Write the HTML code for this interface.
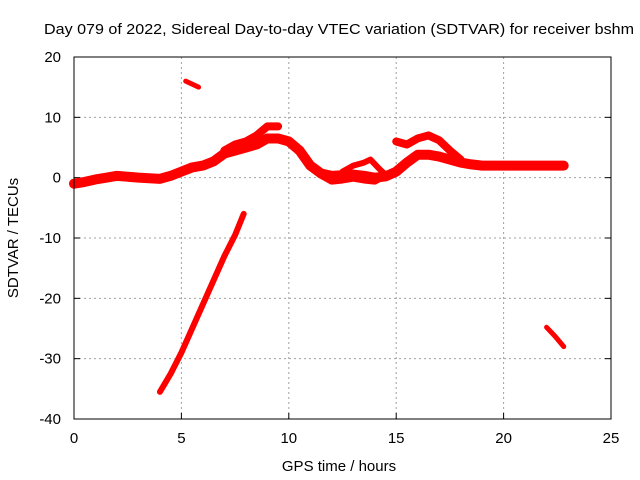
<!DOCTYPE html>
<html><head><meta charset="utf-8"><style>
body{margin:0;background:#fff}
svg{display:block;font-family:"Liberation Sans",sans-serif}
</style></head><body>
<svg id="chart" width="640" height="480" xmlns="http://www.w3.org/2000/svg">
<text x="44" y="34" font-size="15" textLength="590" lengthAdjust="spacingAndGlyphs">Day 079 of 2022, Sidereal Day-to-day VTEC variation (SDTVAR) for receiver bshm</text>
<g id="grid"></g><g id="ticks"></g><g id="series"></g>
<rect x="74" y="57" width="537" height="362" fill="none" stroke="#000" stroke-width="1"/>
<text x="339" y="471" font-size="15" text-anchor="middle">GPS time / hours</text>
<text transform="translate(18,238) rotate(-90)" font-size="15" text-anchor="middle">SDTVAR / TECUs</text>
</svg>
<script>
const xTicks=[0,5,10,15,20,25];
const yTicks=[20,10,0,-10,-20,-30,-40];
const mainH=[0,0.5,1,1.5,2,3,4,4.5,5,5.5,6,6.5,7,7.5,8,8.5,9,9.5,10,10.5,11,11.5,12,12.5,13,13.5,14,14.5,15,15.5,16,16.5,17,17.5,18,18.5,19,20,21,22,22.8];
const mainV=[-1,-0.7,-0.3,0,0.3,0,-0.2,0.3,1,1.7,2,2.7,4,4.5,5,5.5,6.5,6.5,6,4.5,2,0.7,0.3,0.4,0.5,0.3,0,0.2,1,2.5,3.8,3.8,3.5,3,2.5,2.2,2,2,2,2,2];
const upH=[7,7.5,8,8.5,9,9.5];
const upV=[4.5,5.5,6,7,8.5,8.5];
const humpH=[12.5,13,13.5,13.8,14.2,14.5];
const humpV=[1,2,2.5,3,1.5,0.5];
const arcH=[15,15.5,16,16.5,17,17.5,18];
const arcV=[6,5.5,6.5,7,6.2,4.5,3];
const lowH=[11,11.5,12,12.5,13,13.5,14,14.5];
const lowV=[2,0.5,-0.5,-0.3,0,-0.3,-0.5,0.5];
const topH=[5.2,5.8];
const topV=[16,15];
const rampH=[4,4.5,5,5.5,6,6.5,7,7.5,7.9];
const rampV=[-35.5,-32.5,-29,-25,-21,-17,-13,-9.5,-6];
const endH=[22,22.4,22.8];
const endV=[-24.8,-26.3,-28];
const X=h=>74+h*537/25, Y=v=>57+(20-v)*362/60;
const NS="http://www.w3.org/2000/svg";
const mk=(t,a,p)=>{const e=document.createElementNS(NS,t);for(const k in a)e.setAttribute(k,a[k]);p.appendChild(e);return e;};
const grid=document.getElementById('grid'),ticks=document.getElementById('ticks'),ser=document.getElementById('series');
xTicks.forEach(t=>{
 if(t>0&&t<25){const g=mk('line',{x1:X(t),x2:X(t),y1:57,y2:419,stroke:'#a0a0a0','stroke-dasharray':'2,3'},grid);
 
 }
 const tk=mk('line',{x1:X(t),x2:X(t),y1:419,y2:413,stroke:'#000'},ticks);
 
 
 const tx=mk('text',{x:X(t),y:443,'font-size':15,'text-anchor':'middle'},ticks);tx.textContent=t;
 
 
});
yTicks.forEach(t=>{
 if(t<20&&t>-40){const g=mk('line',{x1:74,x2:611,y1:Y(t),y2:Y(t),stroke:'#a0a0a0','stroke-dasharray':'2,3'},grid);
 
 }
 const tk=mk('line',{x1:74,x2:80,y1:Y(t),y2:Y(t),stroke:'#000'},ticks);
 
 
 const tk2=mk('line',{x1:605,x2:611,y1:Y(t),y2:Y(t),stroke:'#000'},ticks);
 
 
 const tx=mk('text',{x:61,y:Y(t)+5,'font-size':15,'text-anchor':'end'},ticks);tx.textContent=t;
 
 
});
function line(hs,vs,w,name){
 const p=mk('polyline',{points:hs.map((h,i)=>X(h)+','+Y(vs[i])).join(' '),fill:'none',stroke:'#ff0000','stroke-width':w,'stroke-linejoin':'round','stroke-linecap':'round'},ser);
 
 
}
line(mainH,mainV,10,'main-track');
line(upH,upV,8,'upper-band');
line(humpH,humpV,6,'hump-arc');
line(arcH,arcV,8,'arc-15-18');
line(lowH,lowV,8,'low-band');
line(topH,topV,5,'top-segment');
line(rampH,rampV,6,'ramp-segment');
line(endH,endV,5,'end-segment');
</script>
</body></html>
